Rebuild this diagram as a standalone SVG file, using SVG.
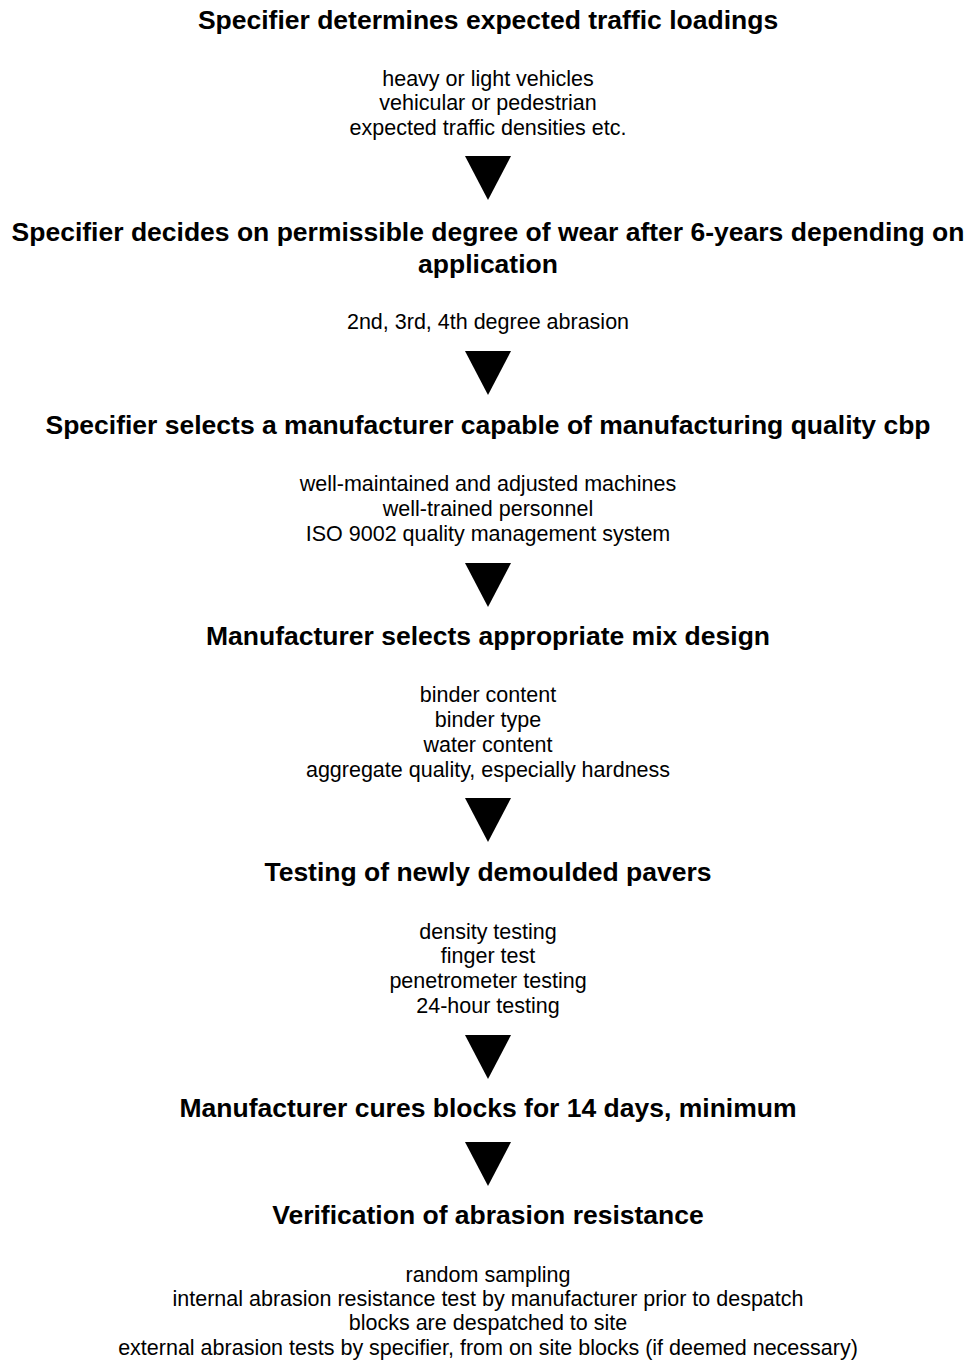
<svg xmlns="http://www.w3.org/2000/svg" width="968" height="1360" viewBox="0 0 968 1360">
  <style>
    .h { font-family: "Liberation Sans", Arial, sans-serif; font-weight: bold; font-size: 26.5px; fill: #000; text-anchor: middle; }
    .b { font-family: "Liberation Sans", Arial, sans-serif; font-size: 21.5px; fill: #000; text-anchor: middle; }
    .arrow { fill: #000; }
  </style>
  <defs>
    <!-- downward pointing triangle used between steps -->
    <polygon id="tri" points="-23,0 23,0 0,44"/>
  </defs>
  <rect width="968" height="1360" fill="#fff"/>

  <g id="step1">
    <text class="h" x="488" y="29">Specifier determines expected traffic loadings</text>
    <text class="b" x="488" y="86">heavy or light vehicles</text>
    <text class="b" x="488" y="110">vehicular or pedestrian</text>
    <text class="b" x="488" y="135">expected traffic densities etc.</text>
  </g>

  <g id="step2">
    <text class="h" x="488" y="241">Specifier decides on permissible degree of wear after 6-years depending on</text>
    <text class="h" x="488" y="273">application</text>
    <text class="b" x="488" y="329">2nd, 3rd, 4th degree abrasion</text>
  </g>

  <g id="step3">
    <text class="h" x="488" y="434">Specifier selects a manufacturer capable of manufacturing quality cbp</text>
    <text class="b" x="488" y="491">well-maintained and adjusted machines</text>
    <text class="b" x="488" y="516">well-trained personnel</text>
    <text class="b" x="488" y="541">ISO 9002 quality management system</text>
  </g>

  <g id="step4">
    <text class="h" x="488" y="645">Manufacturer selects appropriate mix design</text>
    <text class="b" x="488" y="702">binder content</text>
    <text class="b" x="488" y="727">binder type</text>
    <text class="b" x="488" y="752">water content</text>
    <text class="b" x="488" y="777">aggregate quality, especially hardness</text>
  </g>

  <g id="step5">
    <text class="h" x="488" y="881">Testing of newly demoulded pavers</text>
    <text class="b" x="488" y="939">density testing</text>
    <text class="b" x="488" y="963">finger test</text>
    <text class="b" x="488" y="988">penetrometer testing</text>
    <text class="b" x="488" y="1013">24-hour testing</text>
  </g>

  <g id="step6">
    <text class="h" x="488" y="1117">Manufacturer cures blocks for 14 days, minimum</text>
  </g>

  <g id="step7">
    <text class="h" x="488" y="1224">Verification of abrasion resistance</text>
    <text class="b" x="488" y="1282">random sampling</text>
    <text class="b" x="488" y="1306">internal abrasion resistance test by manufacturer prior to despatch</text>
    <text class="b" x="488" y="1330">blocks are despatched to site</text>
    <text class="b" x="488" y="1355">external abrasion tests by specifier, from on site blocks (if deemed necessary)</text>
  </g>

  <g id="connectors" class="arrow">
    <use href="#tri" x="488" y="156"/>
    <use href="#tri" x="488" y="351"/>
    <use href="#tri" x="488" y="563"/>
    <use href="#tri" x="488" y="798"/>
    <use href="#tri" x="488" y="1035"/>
    <use href="#tri" x="488" y="1142"/>
  </g>
</svg>
